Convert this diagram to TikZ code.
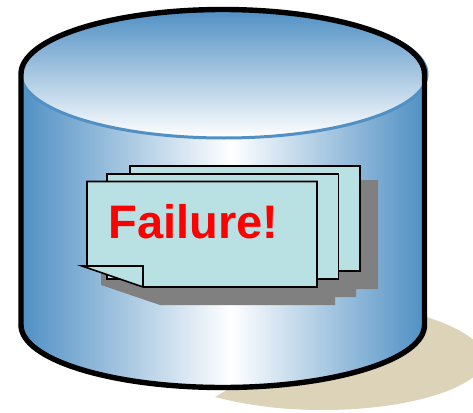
\documentclass[tikz,border=0pt]{standalone}
\usepackage{fontspec}
\setmainfont{Liberation Sans}
\definecolor{dbblue}{HTML}{5090C4}
\definecolor{pagefill}{HTML}{B9E0E2}
\definecolor{groundtan}{HTML}{DDD3B8}
\definecolor{pageshadow}{HTML}{808080}
\pgfdeclarehorizontalshading{bodyshade}{100bp}{color(0bp)=(dbblue); color(25bp)=(dbblue); color(51bp)=(white); color(75bp)=(dbblue); color(100bp)=(dbblue)}
\tikzset{
  outline/.style={draw=black,line width=5.4pt},
  pagebox/.style={draw=black,line width=1.6pt,fill=pagefill,line join=miter},
}
\begin{document}
\begin{tikzpicture}[x=1pt,y=-1pt]
\useasboundingbox (0,0) rectangle (473,412);
\begin{scope}
\clip (0,0) rectangle (473,412);
% ground shadow
\fill[groundtan] (215,397) .. controls (250,406) and (285,410) .. (323,410) .. controls (412,410) and (485,386) .. (485,358) .. controls (485,342) and (455,325) .. (420,315) -- (230,388) -- cycle;
\end{scope}

% cylinder
\path[shading=bodyshade] (21,74)--(21,325) arc[start angle=180,end angle=0,x radius=201.75,y radius=62.5]--(424.5,74)--cycle;
\draw[dbblue,line width=3pt,top color=dbblue,bottom color=white] (224,74) ellipse[x radius=203,y radius=64];
\draw[outline] (21,325)--(21,74) arc[start angle=180,end angle=360,x radius=201.75,y radius=64.5]--(424.5,325);
\draw[outline] (21,325) arc[start angle=180,end angle=0,x radius=201.75,y radius=62.5];

% shadow of the pages
\fill[pageshadow] (150,180)--(378,180)--(378,289)--(356,289)--(356,297)--(335,297)--(335,305)--(160,305)--(101,285)--(101,260)--cycle;

% pages
\draw[pagebox] (130,166)--(360,166)--(360,271)--(130,271)--cycle;
\draw[pagebox] (107,174)--(338.5,174)--(338.5,279)--(107,279)--cycle;
\draw[pagebox] (87,266)--(87,181.5)--(317,181.5)--(317,287)--(143,287)--(82,266)--(143,266)--(143,287);
\node[text=red,font=\fontsize{47}{47}\bfseries\selectfont,anchor=base west,inner sep=0pt] (failuretext) at (108.5,238) {Failure!};
\end{tikzpicture}
\end{document}
